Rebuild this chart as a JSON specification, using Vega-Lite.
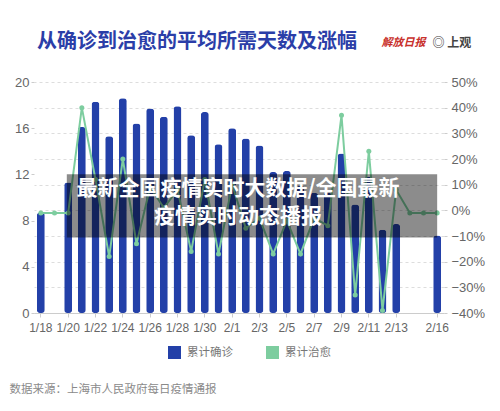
{
  "$schema": "https://vega.github.io/schema/vega-lite/v6.json",
  "width": 410,
  "height": 231,
  "autosize": "none",
  "padding": {"left": 34, "top": 82, "right": 56, "bottom": 98},
  "background": "white",
  "config": {"view": {"stroke": null}, "font": "Liberation Sans"},
  "title": {
    "text": "从确诊到治愈的平均所需天数及涨幅",
    "anchor": "start",
    "frame": "group",
    "font": "Noto Sans CJK SC",
    "fontSize": 20,
    "fontWeight": "bold",
    "color": "#2b3ea8",
    "offset": -16,
    "dx": 3
  },
  "datasets": {
    "days": [
      {"date": "1/18", "confirmed": 8.7, "recovered": -1},
      {"date": "1/19", "confirmed": null, "recovered": -1},
      {"date": "1/20", "confirmed": 11.3, "recovered": -1},
      {"date": "1/21", "confirmed": 16.1, "recovered": 40},
      {"date": "1/22", "confirmed": 18.3, "recovered": 12},
      {"date": "1/23", "confirmed": 15.3, "recovered": -18},
      {"date": "1/24", "confirmed": 18.6, "recovered": 20},
      {"date": "1/25", "confirmed": 16.4, "recovered": -13},
      {"date": "1/26", "confirmed": 17.7, "recovered": 9},
      {"date": "1/27", "confirmed": 17.0, "recovered": 1},
      {"date": "1/28", "confirmed": 17.9, "recovered": 8},
      {"date": "1/29", "confirmed": 15.4, "recovered": -16},
      {"date": "1/30", "confirmed": 17.4, "recovered": 12},
      {"date": "1/31", "confirmed": 14.6, "recovered": -17},
      {"date": "2/1", "confirmed": 16.0, "recovered": 10},
      {"date": "2/2", "confirmed": 15.1, "recovered": -7},
      {"date": "2/3", "confirmed": 14.5, "recovered": -3},
      {"date": "2/4", "confirmed": 12.2, "recovered": -17},
      {"date": "2/5", "confirmed": 12.3, "recovered": -4},
      {"date": "2/6", "confirmed": 11.0, "recovered": -17},
      {"date": "2/7", "confirmed": 10.4, "recovered": -3},
      {"date": "2/8", "confirmed": 10.4, "recovered": -6},
      {"date": "2/9", "confirmed": 13.8, "recovered": 37},
      {"date": "2/10", "confirmed": 9.4, "recovered": -33},
      {"date": "2/11", "confirmed": 11.8, "recovered": 23},
      {"date": "2/12", "confirmed": 7.2, "recovered": -39},
      {"date": "2/13", "confirmed": 7.7, "recovered": 8},
      {"date": "2/14", "confirmed": null, "recovered": -1},
      {"date": "2/15", "confirmed": null, "recovered": -1},
      {"date": "2/16", "confirmed": 6.7, "recovered": -1}
    ],
    "overlay": [
      {"line1": "最新全国疫情实时大数据/全国最新", "line2": "疫情实时动态播报"}
    ]
  },
  "data": {"name": "days"},
  "encoding": {
    "x": {
      "field": "date",
      "type": "ordinal",
      "scale": {
        "domain": ["1/18","1/19","1/20","1/21","1/22","1/23","1/24","1/25","1/26","1/27","1/28","1/29","1/30","1/31","2/1","2/2","2/3","2/4","2/5","2/6","2/7","2/8","2/9","2/10","2/11","2/12","2/13","2/14","2/15","2/16"],
        "paddingInner": 0,
        "paddingOuter": 0
      },
      "axis": {
        "values": ["1/18","1/20","1/22","1/24","1/26","1/28","1/30","2/1","2/3","2/5","2/7","2/9","2/11","2/13","2/16"],
        "bandPosition": 0.5,
        "labelAngle": 0,
        "labelFontSize": 12,
        "labelColor": "#666666",
        "labelPadding": 5,
        "domainColor": "#cccccc",
        "tickColor": "#cccccc",
        "tickSize": 4,
        "grid": false,
        "title": "数据来源：上海市人民政府每日疫情通报",
        "titleFont": "Noto Sans CJK SC",
        "titleFontSize": 11.5,
        "titleFontWeight": "normal",
        "titleColor": "#8a8a8a",
        "titleAnchor": "start",
        "titleAlign": "left",
        "titleBaseline": "middle",
        "titleX": -25,
        "titleY": 76
      }
    }
  },
  "layer": [
    {
      "transform": [{"filter": "datum.confirmed != null"}],
      "mark": {"type": "bar", "cornerRadius": 3, "width": {"band": 0.58}},
      "encoding": {
        "y": {
          "field": "confirmed",
          "type": "quantitative",
          "scale": {"domain": [0, 20], "nice": false},
          "axis": {
            "values": [0, 4, 8, 12, 16, 20],
            "grid": false,
            "domain": false,
            "tickSize": 3,
            "tickColor": "#cccccc",
            "labelFontSize": 13,
            "labelColor": "#666666",
            "labelPadding": 2,
            "title": "解放日报",
            "titleAngle": 0,
            "titleX": 347,
            "titleY": -40,
            "titleAlign": "left",
            "titleBaseline": "middle",
            "titleFont": "Noto Sans CJK SC",
            "titleFontSize": 11,
            "titleFontWeight": "bold",
            "titleFontStyle": "italic",
            "titleColor": "#c8302b"
          }
        },
        "color": {
          "datum": "累计确诊",
          "type": "nominal",
          "scale": {"domain": ["累计确诊", "累计治愈"], "range": ["#2340a8", "#7dcd9f"]},
          "legend": {
            "title": null,
            "orient": "none",
            "direction": "horizontal",
            "legendX": 134,
            "legendY": 264,
            "symbolType": "square",
            "symbolSize": 169,
            "symbolStrokeWidth": 0,
            "labelFont": "Noto Sans CJK SC",
            "labelFontSize": 11.5,
            "labelColor": "#777777",
            "labelOffset": 6,
            "columnPadding": 33,
            "padding": 0
          }
        }
      }
    },
    {
      "encoding": {
        "y": {
          "field": "recovered",
          "type": "quantitative",
          "scale": {"domain": [-40, 50], "nice": false},
          "axis": {
            "orient": "right",
            "values": [-40, -30, -20, -10, 0, 10, 20, 30, 40, 50],
            "labelExpr": "format(datum.value / 100, '.0%')",
            "grid": true,
            "gridDash": [3, 3],
            "gridColor": "#dddddd",
            "domain": false,
            "tickSize": 3,
            "tickColor": "#cccccc",
            "labelFontSize": 13,
            "labelColor": "#666666",
            "labelPadding": 4,
            "title": "◎ 上观",
            "titleAngle": 0,
            "titleX": -12,
            "titleY": -40,
            "titleAlign": "left",
            "titleBaseline": "middle",
            "titleFont": "Noto Sans CJK SC",
            "titleFontSize": 12,
            "titleFontWeight": "bold",
            "titleColor": "#444444"
          }
        }
      },
      "layer": [
        {"mark": {"type": "line", "color": "#7dcd9f", "strokeWidth": 2}},
        {"mark": {"type": "point", "filled": true, "color": "#7dcd9f", "size": 25, "opacity": 1}}
      ]
    },
    {
      "data": {"name": "overlay"},
      "layer": [
        {
          "mark": {"type": "rect", "color": "black", "opacity": 0.45},
          "encoding": {
            "x": {"datum": "1/20", "bandPosition": 0.4},
            "x2": {"datum": "2/16"},
            "y": {"datum": 14.1, "type": "quantitative", "scale": {"domain": [-40, 50], "nice": false}, "axis": null},
            "y2": {"datum": -10.6}
          }
        },
        {
          "mark": {
            "type": "text",
            "font": "Noto Sans CJK SC",
            "fontSize": 21,
            "fontWeight": "bold",
            "color": "white",
            "align": "center",
            "baseline": "middle"
          },
          "encoding": {
            "x": {"datum": "2/1", "bandPosition": 0.93},
            "y": {"datum": 8.2, "type": "quantitative", "scale": {"domain": [-40, 50], "nice": false}, "axis": null},
            "text": {"field": "line1"}
          }
        },
        {
          "mark": {
            "type": "text",
            "font": "Noto Sans CJK SC",
            "fontSize": 21,
            "fontWeight": "bold",
            "color": "white",
            "align": "center",
            "baseline": "middle"
          },
          "encoding": {
            "x": {"datum": "2/1", "bandPosition": 0.93},
            "y": {"datum": -2.7, "type": "quantitative", "scale": {"domain": [-40, 50], "nice": false}, "axis": null},
            "text": {"field": "line2"}
          }
        }
      ]
    }
  ],
  "resolve": {"scale": {"y": "independent"}}
}
